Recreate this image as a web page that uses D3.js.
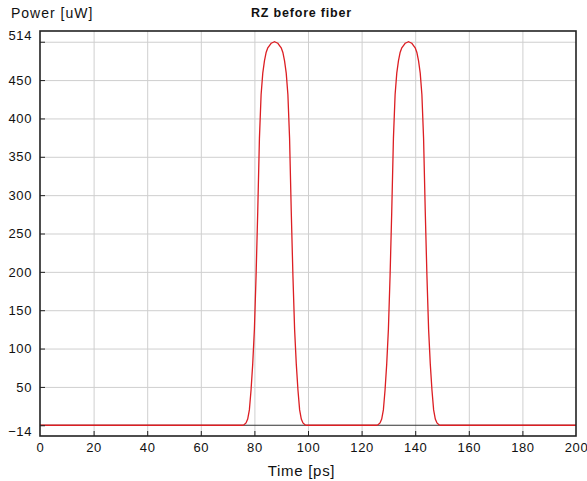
<!DOCTYPE html>
<html>
<head>
<meta charset="utf-8">
<script src="https://cdnjs.cloudflare.com/ajax/libs/d3/7.8.5/d3.min.js"></script>
<style>
  body { margin: 0; background: #fff; }
  text { font-family: "Liberation Sans", Arial, sans-serif; }
  .grid line { stroke: #cfcfcf; }
  .grid .domain { display: none; }
</style>
</head>
<body>
<svg></svg>
<script>
let width = 587,
  height = 481,
  plotLeft = 40,
  plotTop = 31,
  plotRight = 576,
  plotBottom = 436,
  xScale,
  yScale;

// axis ticks / labels
const xTicks = [0, 20, 40, 60, 80, 100, 120, 140, 160, 180, 200];
const yLabels = [-14, 50, 100, 150, 200, 250, 300, 350, 400, 450, 514];
const yGrid = [0, 50, 100, 150, 200, 250, 300, 350, 400, 450, 500];

// sampled RZ pulses (power in uW), one sample every 0.625 ps
const sampleStep = 0.625;
const pulse1Start = 75;
const pulse1Power = [0, 0, 1, 3, 8, 20, 46, 80, 125, 195, 279, 374, 431, 459, 475, 486, 492, 495, 498, 499, 500,
  499, 498, 495, 492, 486, 475, 459, 431, 374, 279, 195, 125, 80, 46, 20, 8, 3, 1, 0, 0];
const pulse2Start = 125;
const pulse2Power = [0, 0, 1, 3, 8, 20, 46, 80, 125, 195, 279, 374, 431, 459, 475, 486, 492, 495, 498, 499, 500,
  499, 498, 495, 492, 486, 475, 459, 431, 374, 279, 195, 125, 80, 46, 20, 8, 3, 1, 0, 0];

let trace = [{t: 0, p: 0}];
pulse1Power.forEach((p, i) => trace.push({t: pulse1Start + i * sampleStep, p: p}));
pulse2Power.forEach((p, i) => trace.push({t: pulse2Start + i * sampleStep, p: p}));
trace.push({t: 200, p: 0});

let svg = d3.select("svg")
  .attr("width", width)
  .attr("height", height);

xScale = d3.scaleLinear().domain([0, 200]).range([plotLeft, plotRight]);
yScale = d3.scaleLinear().domain([-14, 514]).range([plotBottom, plotTop]);

// grid
svg.append("g")
  .attr("class", "grid")
  .attr("transform", `translate(0, ${plotBottom})`)
  .call(d3.axisBottom(xScale).tickValues(xTicks.slice(1, -1)).tickSize(-(plotBottom - plotTop)).tickFormat(""));

svg.append("g")
  .attr("class", "grid")
  .attr("transform", `translate(${plotLeft}, 0)`)
  .call(d3.axisLeft(yScale).tickValues(yGrid.filter(v => v !== 0)).tickSize(-(plotRight - plotLeft)).tickFormat(""));

// zero line
svg.append("line")
  .attr("x1", xScale(0))
  .attr("x2", xScale(200))
  .attr("y1", yScale(0))
  .attr("y2", yScale(0))
  .attr("stroke", "#333")
  .attr("stroke-width", 1.2);

// signal
let line = d3.line().x(d => xScale(d.t)).y(d => yScale(d.p));
svg.append("path")
  .datum(trace)
  .attr("d", line)
  .attr("fill", "none")
  .attr("stroke", "#dc1e23")
  .attr("stroke-width", 1.3);

// x axis
let xAxis = svg.append("g")
  .attr("transform", `translate(0, ${plotBottom})`)
  .call(d3.axisBottom(xScale).tickValues(xTicks).tickSize(-5).tickPadding(7));
xAxis.select(".domain").remove();
xAxis.selectAll("line").attr("stroke", "#222").filter(d => d === 0 || d === 200).remove();
xAxis.selectAll("text")
  .attr("font-size", 13)
  .attr("letter-spacing", "0.6px")
  .attr("fill", "#111");

// y tick marks
let yMarks = svg.append("g")
  .attr("transform", `translate(${plotLeft}, 0)`)
  .call(d3.axisLeft(yScale).tickValues(yGrid).tickSize(-5).tickFormat(""));
yMarks.select(".domain").remove();
yMarks.selectAll("line").attr("stroke", "#222");

// y labels
let yAxis = svg.append("g")
  .attr("transform", `translate(${plotLeft}, 0)`)
  .call(d3.axisLeft(yScale).tickValues(yLabels).tickSize(0).tickPadding(8));
yAxis.select(".domain").remove();
yAxis.selectAll("text")
  .attr("font-size", 13)
  .attr("letter-spacing", "0.6px")
  .attr("fill", "#111")
  .attr("transform", d => d === 514 ? "translate(0, 4)" : d === -14 ? "translate(0, -5)" : null);

// frame
svg.append("rect")
  .attr("x", plotLeft)
  .attr("y", plotTop)
  .attr("width", plotRight - plotLeft)
  .attr("height", plotBottom - plotTop)
  .attr("fill", "none")
  .attr("stroke", "#222")
  .attr("stroke-width", 1.6);

// texts
svg.append("text")
  .attr("x", 11)
  .attr("y", 18)
  .attr("font-size", 14)
  .attr("letter-spacing", "1px")
  .attr("fill", "#111")
  .text("Power [uW]");

svg.append("text")
  .attr("x", 301.5)
  .attr("y", 17)
  .attr("text-anchor", "middle")
  .attr("font-size", 12.5)
  .attr("font-weight", "bold")
  .attr("letter-spacing", "0.8px")
  .attr("fill", "#111")
  .text("RZ before fiber");

svg.append("text")
  .attr("x", 301.5)
  .attr("y", 476)
  .attr("text-anchor", "middle")
  .attr("font-size", 15)
  .attr("letter-spacing", "0.7px")
  .attr("fill", "#111")
  .text("Time [ps]");
</script>
</body>
</html>
